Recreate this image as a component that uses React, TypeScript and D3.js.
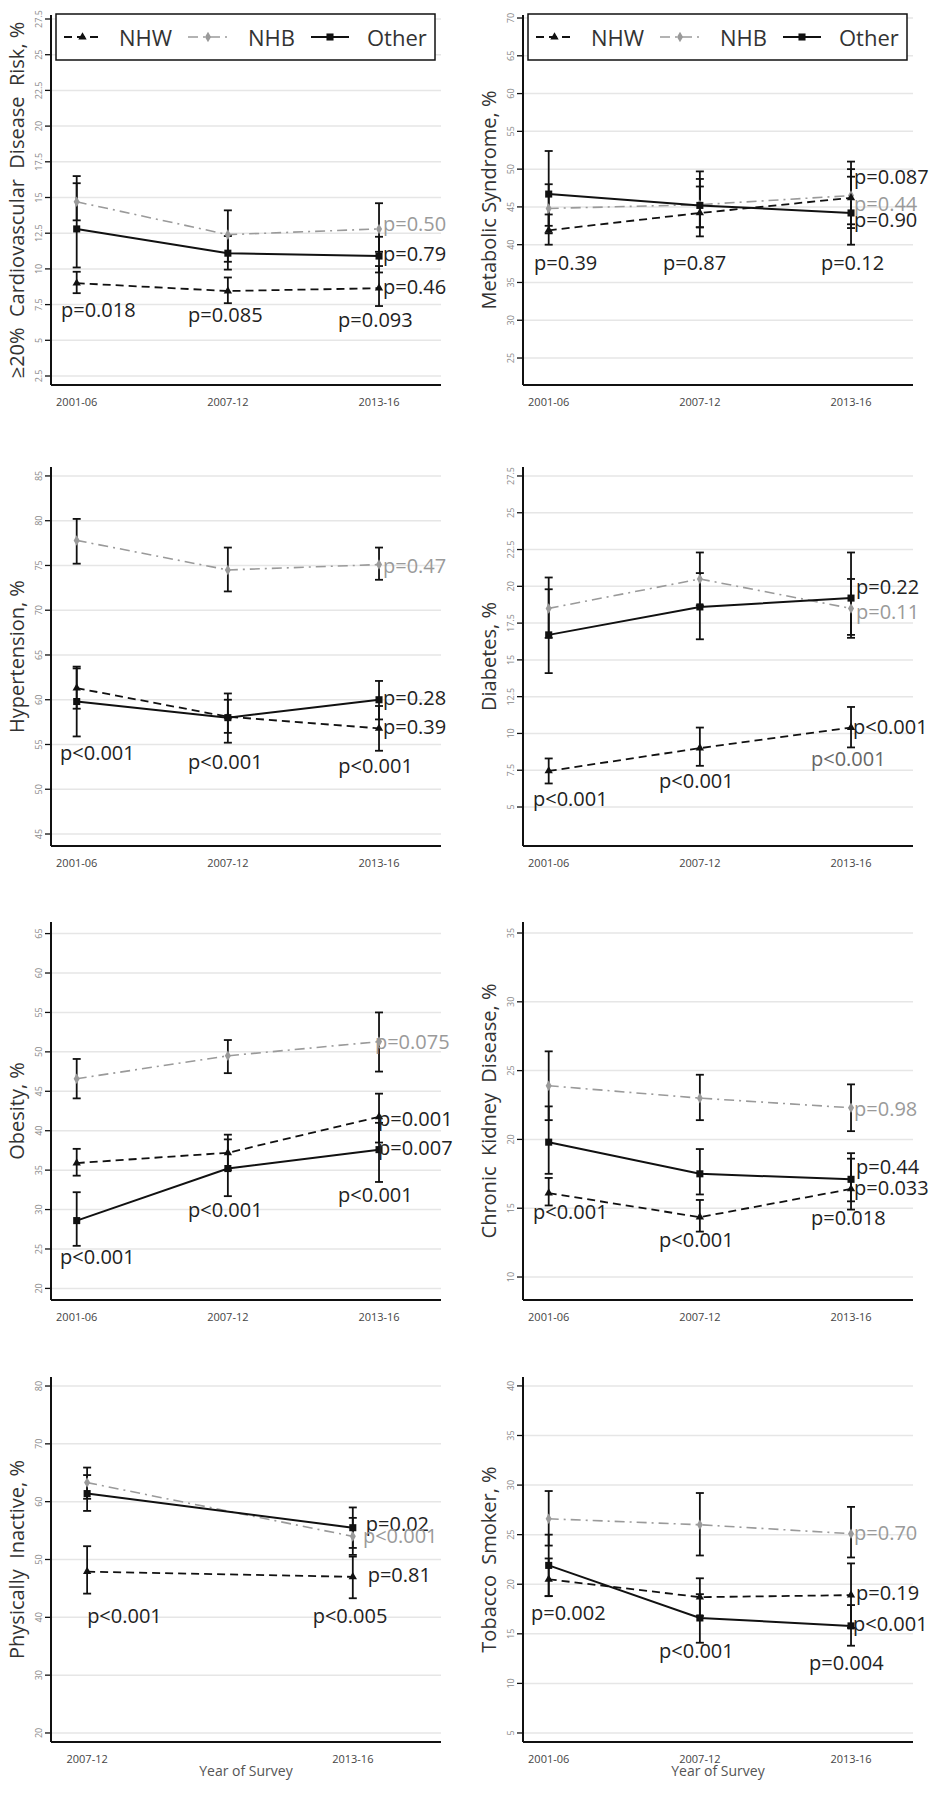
import * as d3 from "d3";

type Pt = [number, number, number]; // estimate, ci low, ci high
type Lab = [number, number, string, string]; // x index, y value, text, tone

const yearsAll = ["2001-06", "2007-12", "2013-16"];
const yearsPA = ["2007-12", "2013-16"];
const groups = ["NHW", "NHB", "Other"];

// >=20% cardiovascular disease risk
const cvdTicks = [2.5, 5, 7.5, 10, 12.5, 15, 17.5, 20, 22.5, 25, 27.5];
const cvdNHW: Pt[] = [[9.0, 8.3, 9.8], [8.45, 7.6, 9.4], [8.65, 7.4, 10.2]];
const cvdNHB: Pt[] = [[14.7, 13.4, 16.0], [12.4, 10.5, 14.1], [12.8, 11.2, 14.6]];
const cvdOther: Pt[] = [[12.8, 10.1, 16.5], [11.1, 9.95, 12.3], [10.9, 9.75, 12.25]];
const cvdLabels: Lab[] = [
  [2.026, 13.2, "p=0.50", "NHB"], [2.026, 11.05, "p=0.79", ""], [2.026, 8.74, "p=0.46", ""],
  [-0.104, 7.13, "p=0.018", ""], [0.736, 6.78, "p=0.085", ""], [1.729, 6.43, "p=0.093", ""],
];

// metabolic syndrome
const metTicks = [25, 30, 35, 40, 45, 50, 55, 60, 65, 70];
const metNHW: Pt[] = [[41.9, 40.0, 44.0], [44.2, 42.3, 47.7], [46.2, 42.2, 50.0]];
const metNHB: Pt[] = [[44.8, 42.5, 48.0], [45.3, 42.3, 48.7], [46.5, 42.7, 49.0]];
const metOther: Pt[] = [[46.7, 41.5, 52.4], [45.2, 41.1, 49.7], [44.2, 40.0, 51.0]];
const metLabels: Lab[] = [
  [2.02, 48.96, "p=0.087", ""], [2.02, 45.5, "p=0.44", "NHB"], [2.02, 43.27, "p=0.90", ""],
  [-0.097, 37.7, "p=0.39", ""], [0.756, 37.7, "p=0.87", ""], [1.801, 37.7, "p=0.12", ""],
];

// hypertension
const htnTicks = [45, 50, 55, 60, 65, 70, 75, 80, 85];
const htnNHW: Pt[] = [[61.3, 59.0, 63.5], [58.1, 56.3, 60.0], [56.8, 54.3, 59.3]];
const htnNHB: Pt[] = [[77.8, 75.2, 80.2], [74.5, 72.1, 77.0], [75.1, 73.4, 77.0]];
const htnOther: Pt[] = [[59.8, 55.9, 63.7], [58.0, 55.2, 60.7], [60.0, 57.8, 62.1]];
const htnLabels: Lab[] = [
  [2.026, 74.95, "p=0.47", "NHB"], [2.026, 60.2, "p=0.28", ""], [2.026, 56.96, "p=0.39", ""],
  [-0.11, 54.05, "p<0.001", ""], [0.736, 53.05, "p<0.001", ""], [1.73, 52.6, "p<0.001", ""],
];

// diabetes
const dmTicks = [5, 7.5, 10, 12.5, 15, 17.5, 20, 22.5, 25, 27.5];
const dmNHW: Pt[] = [[7.45, 6.6, 8.3], [9.0, 7.8, 10.4], [10.4, 9.05, 11.8]];
const dmNHB: Pt[] = [[18.5, 16.5, 20.6], [20.5, 18.7, 22.3], [18.5, 16.7, 20.5]];
const dmOther: Pt[] = [[16.7, 14.1, 19.8], [18.6, 16.4, 20.9], [19.2, 16.5, 22.3]];
const dmLabels: Lab[] = [
  [2.033, 19.96, "p=0.22", ""], [2.033, 18.26, "p=0.11", "NHB"], [2.013, 10.44, "p<0.001", ""],
  [1.735, 8.33, "p<0.001", "mid"], [0.73, 6.77, "p<0.001", ""], [-0.104, 5.55, "p<0.001", ""],
];

// obesity
const obTicks = [20, 25, 30, 35, 40, 45, 50, 55, 60, 65];
const obNHW: Pt[] = [[35.9, 34.3, 37.7], [37.2, 35.0, 39.5], [41.75, 38.5, 44.7]];
const obNHB: Pt[] = [[46.6, 44.1, 49.1], [49.5, 47.3, 51.5], [51.3, 47.5, 55.0]];
const obOther: Pt[] = [[28.6, 25.4, 32.2], [35.2, 31.7, 38.9], [37.6, 33.5, 41.0]];
const obLabels: Lab[] = [
  [1.973, 51.37, "p=0.075", "NHB"], [1.993, 41.6, "p=0.001", ""], [1.993, 37.93, "p=0.007", ""],
  [-0.11, 24.11, "p<0.001", ""], [0.736, 30.07, "p<0.001", ""], [1.729, 31.97, "p<0.001", ""],
];

// chronic kidney disease
const ckdTicks = [10, 15, 20, 25, 30, 35];
const ckdNHW: Pt[] = [[16.1, 15.2, 17.2], [14.35, 13.3, 15.6], [16.4, 14.9, 18.6]];
const ckdNHB: Pt[] = [[23.9, 21.4, 26.4], [23.0, 21.4, 24.7], [22.3, 20.6, 24.0]];
const ckdOther: Pt[] = [[19.8, 17.5, 22.4], [17.5, 16.0, 19.3], [17.1, 15.5, 19.0]];
const ckdLabels: Lab[] = [
  [2.02, 22.28, "p=0.98", "NHB"], [2.033, 18.0, "p=0.44", ""], [2.02, 16.54, "p=0.033", ""],
  [-0.104, 14.73, "p<0.001", ""], [0.73, 12.76, "p<0.001", ""], [1.735, 14.36, "p=0.018", ""],
];

// physically inactive (two surveys)
const paTicks = [20, 30, 40, 50, 60, 70, 80];
const paNHW: Pt[] = [[47.9, 44.1, 52.3], [47.0, 43.3, 50.5]];
const paNHB: Pt[] = [[63.3, 60.5, 65.9], [54.0, 50.8, 57.2]];
const paOther: Pt[] = [[61.4, 58.4, 64.6], [55.5, 52.0, 59.0]];
const paLabels: Lab[] = [
  [1.049, 56.31, "p=0.02", ""], [1.038, 54.23, "p<0.001", "NHB"], [1.056, 47.32, "p=0.81", ""],
  [0.0, 40.23, "p<0.001", ""], [0.849, 40.23, "p<0.005", ""],
];

// tobacco smoker
const tobTicks = [5, 10, 15, 20, 25, 30, 35, 40];
const tobNHW: Pt[] = [[20.5, 18.8, 22.6], [18.7, 16.8, 20.6], [18.9, 15.6, 22.1]];
const tobNHB: Pt[] = [[26.6, 23.9, 29.4], [26.0, 22.9, 29.2], [25.1, 22.7, 27.8]];
const tobOther: Pt[] = [[21.9, 18.8, 25.0], [16.6, 14.1, 19.0], [15.8, 13.8, 17.9]];
const tobLabels: Lab[] = [
  [2.02, 25.17, "p=0.70", "NHB"], [2.033, 19.12, "p=0.19", ""], [2.013, 16.09, "p<0.001", ""],
  [-0.117, 17.1, "p=0.002", ""], [0.73, 13.27, "p<0.001", ""], [1.722, 12.06, "p=0.004", ""],
];

const PANEL_W = 390;
const colX = [51, 523];
const rows: [number, number][] = [[15, 385], [467, 846], [922, 1300], [1377, 1742]];
const FONT = "'Open Sans', 'DejaVu Sans', sans-serif";

const x3 = [-0.17, 2.41];
const panels = [
  { title: "≥20%  Cardiovascular  Disease  Risk, %", col: 0, row: 0, years: yearsAll, xDom: x3, yDom: [1.87, 27.78], ticks: cvdTicks, data: [cvdNHW, cvdNHB, cvdOther], labels: cvdLabels, legend: true },
  { title: "Metabolic Syndrome, %", col: 1, row: 0, years: yearsAll, xDom: x3, yDom: [21.43, 70.4], ticks: metTicks, data: [metNHW, metNHB, metOther], labels: metLabels, legend: true },
  { title: "Hypertension, %", col: 0, row: 1, years: yearsAll, xDom: x3, yDom: [43.66, 86.0], ticks: htnTicks, data: [htnNHW, htnNHB, htnOther], labels: htnLabels },
  { title: "Diabetes, %", col: 1, row: 1, years: yearsAll, xDom: x3, yDom: [2.35, 28.11], ticks: dmTicks, data: [dmNHW, dmNHB, dmOther], labels: dmLabels },
  { title: "Obesity, %", col: 0, row: 2, years: yearsAll, xDom: x3, yDom: [18.53, 66.47], ticks: obTicks, data: [obNHW, obNHB, obOther], labels: obLabels },
  { title: "Chronic  Kidney  Disease, %", col: 1, row: 2, years: yearsAll, xDom: x3, yDom: [8.33, 35.8], ticks: ckdTicks, data: [ckdNHW, ckdNHB, ckdOther], labels: ckdLabels },
  { title: "Physically  Inactive, %", col: 0, row: 3, years: yearsPA, xDom: [-0.136, 1.332], yDom: [18.44, 81.56], ticks: paTicks, data: [paNHW, paNHB, paOther], labels: paLabels, xTitle: true },
  { title: "Tobacco  Smoker, %", col: 1, row: 3, years: yearsAll, xDom: x3, yDom: [4.09, 40.9], ticks: tobTicks, data: [tobNHW, tobNHB, tobOther], labels: tobLabels, xTitle: true },
];

const styles: Record<string, any> = {
  NHW: { stroke: "#111", dash: "8,5", width: 1.8, symbol: d3.symbolTriangle, size: 30 },
  NHB: { stroke: "#9a9a9a", dash: "10,5,2,5", width: 1.6, symbol: d3.symbolDiamond, size: 32 },
  Other: { stroke: "#111", dash: undefined, width: 2, symbol: d3.symbolSquare, size: 50 },
};

const toneColor = (t: string) => (t === "NHB" ? "#9a9a9a" : t === "mid" ? "#666" : "#222");

// legend offsets from box left: line start, line end, text
const legendPos: Record<string, number[]> = { NHW: [8, 45, 63], NHB: [132, 172, 192], Other: [255, 293, 311] };

function Panel({ p }: { p: any }) {
  const x0 = colX[p.col];
  const [top, bottom] = rows[p.row];
  const x = d3.scaleLinear().domain(p.xDom).range([x0, x0 + PANEL_W]);
  const y = d3.scaleLinear().domain(p.yDom).range([bottom, top]);
  const line = d3.line<Pt>().x((_, i) => x(i)).y((d) => y(d[0]));
  const order = [1, 0, 2];

  return (
    <g>
      {p.ticks.map((t: number) => (
        <g key={t}>
          <line x1={x0} x2={x0 + PANEL_W} y1={y(t)} y2={y(t)} stroke="#e6e6e6" strokeWidth={1.5} />
          <line x1={x0 - 6} x2={x0} y1={y(t)} y2={y(t)} stroke="#111" strokeWidth={1.3} />
          <text transform={`translate(${x0 - 13},${y(t)}) rotate(-90)`} textAnchor="middle" dominantBaseline="central" fontSize={9} fill="#888" fontFamily={FONT}>{t}</text>
        </g>
      ))}
      <line x1={x0} x2={x0} y1={top} y2={bottom} stroke="#111" strokeWidth={2} />
      <line x1={x0} x2={x0 + PANEL_W} y1={bottom} y2={bottom} stroke="#111" strokeWidth={2} />
      {p.years.map((yr: string, i: number) => (
        <text key={yr} x={x(i)} y={bottom + 16} textAnchor="middle" dominantBaseline="central" fontSize={11} fill="#444" fontFamily={FONT}>{yr}</text>
      ))}
      <text transform={`translate(${x0 - 35},${(top + bottom) / 2}) rotate(-90)`} textAnchor="middle" dominantBaseline="central" fontSize={20} fill="#333" fontFamily={FONT} style={{ whiteSpace: "pre" }}>{p.title}</text>
      {p.xTitle && (
        <text x={x0 + PANEL_W / 2} y={bottom + 28} textAnchor="middle" dominantBaseline="central" fontSize={14} fill="#555" fontFamily={FONT}>Year of Survey</text>
      )}
      {order.map((gi) => {
        const s = styles[groups[gi]];
        return <path key={gi} d={line(p.data[gi]) || ""} fill="none" stroke={s.stroke} strokeWidth={s.width} strokeDasharray={s.dash} />;
      })}
      {p.data.map((series: Pt[], gi: number) =>
        series.map((d, i) => (
          <g key={`e${gi}-${i}`} stroke="#111" strokeWidth={1.8}>
            <line x1={x(i)} x2={x(i)} y1={y(d[1])} y2={y(d[2])} />
            <line x1={x(i) - 4} x2={x(i) + 4} y1={y(d[1])} y2={y(d[1])} />
            <line x1={x(i) - 4} x2={x(i) + 4} y1={y(d[2])} y2={y(d[2])} />
          </g>
        ))
      )}
      {order.map((gi) => {
        const s = styles[groups[gi]];
        const sym = d3.symbol().type(s.symbol).size(s.size)() || "";
        return p.data[gi].map((d: Pt, i: number) => (
          <path key={`m${gi}-${i}`} d={sym} transform={`translate(${x(i)},${y(d[0])})`} fill={s.stroke} />
        ));
      })}
      {p.labels.map((l: Lab, i: number) => (
        <text key={`l${i}`} x={x(l[0])} y={y(l[1])} dominantBaseline="central" fontSize={20} fill={toneColor(l[3])} fontFamily={FONT}>{l[2]}</text>
      ))}
      {p.legend && (
        <g>
          <rect x={x0 + 5} y={top - 1} width={379} height={46} fill="#fff" stroke="#111" strokeWidth={1.5} />
          {groups.map((g) => {
            const s = styles[g];
            const [a, b, t] = legendPos[g];
            const bx = x0 + 5;
            const cy = top + 22;
            const sym = d3.symbol().type(s.symbol).size(s.size)() || "";
            return (
              <g key={g}>
                <line x1={bx + a} x2={bx + b} y1={cy} y2={cy} stroke={s.stroke} strokeWidth={s.width} strokeDasharray={s.dash} />
                <path d={sym} transform={`translate(${bx + (a + b) / 2},${cy})`} fill={s.stroke} />
                <text x={bx + t} y={cy} dominantBaseline="central" fontSize={22} fill="#333" fontFamily={FONT}>{g}</text>
              </g>
            );
          })}
        </g>
      )}
    </g>
  );
}

export default function App() {
  return (
    <div style={{ position: "absolute", left: 0, top: 0 }}>
      <svg width={933} height={1800} style={{ display: "block", background: "#fff" }}>
        {panels.map((p, i) => (
          <Panel key={i} p={p} />
        ))}
      </svg>
    </div>
  );
}
